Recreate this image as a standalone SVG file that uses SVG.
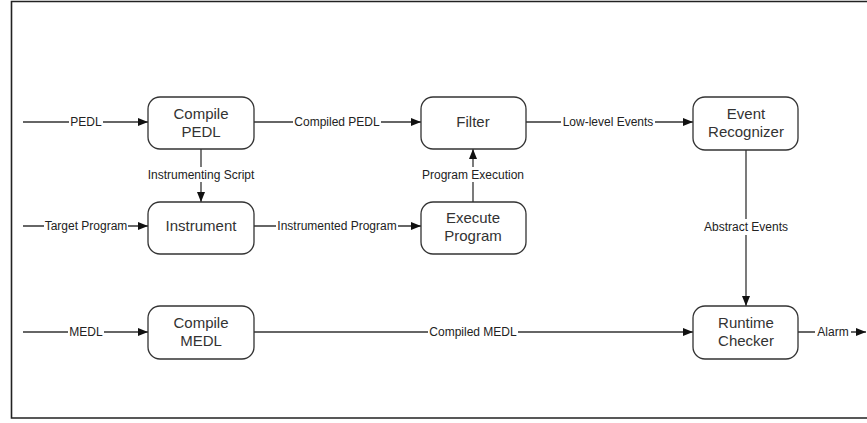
<svg xmlns="http://www.w3.org/2000/svg" width="867" height="423" viewBox="0 0 867 423">
<style>
.node rect{fill:#fff;stroke:#333;stroke-width:1.3}
.node text{font-family:"Liberation Sans",Arial,sans-serif;font-size:15px;fill:#333;text-anchor:middle}
.conn line{stroke:#333;stroke-width:1.3}
.lbl{font-family:"Liberation Sans",Arial,sans-serif;font-size:12px;fill:#222;text-anchor:middle}
.bg{fill:#fff}
</style>
<defs>
<marker id="ah" viewBox="0 0 10 8" refX="10" refY="4" markerWidth="10" markerHeight="8" markerUnits="userSpaceOnUse" orient="auto">
<path d="M0,0 L10,4 L0,8 z" fill="#111"/>
</marker>
</defs>
<rect width="867" height="423" fill="#fff"/>
<g id="frame" fill="none" stroke="#222" stroke-width="1.6">
<polyline points="867,1.5 11.5,1.5 11.5,418 867,418"/>
</g>
<g id="connectors" class="conn">
<line x1="23" y1="122" x2="148" y2="122" marker-end="url(#ah)"/>
<line x1="23" y1="226" x2="148" y2="226" marker-end="url(#ah)"/>
<line x1="201" y1="149" x2="201" y2="202" marker-end="url(#ah)"/>
<line x1="254" y1="122" x2="421" y2="122" marker-end="url(#ah)"/>
<line x1="254" y1="226" x2="421" y2="226" marker-end="url(#ah)"/>
<line x1="473" y1="202" x2="473" y2="149" marker-end="url(#ah)"/>
<line x1="526" y1="122" x2="693" y2="122" marker-end="url(#ah)"/>
<line x1="746" y1="150" x2="746" y2="306" marker-end="url(#ah)"/>
<line x1="23" y1="332" x2="148" y2="332" marker-end="url(#ah)"/>
<line x1="254" y1="332" x2="693" y2="332" marker-end="url(#ah)"/>
<line x1="798" y1="332" x2="866" y2="332" marker-end="url(#ah)"/>
<rect class="bg" x="69" y="116" width="34" height="12"/>
<text class="lbl" x="86" y="126">PEDL</text>
<rect class="bg" x="44" y="220" width="84" height="12"/>
<text class="lbl" x="86" y="230">Target Program</text>
<rect class="bg" x="146" y="167" width="110" height="15"/>
<text class="lbl" x="201" y="179">Instrumenting Script</text>
<rect class="bg" x="293" y="116" width="88" height="12"/>
<text class="lbl" x="337" y="126">Compiled PEDL</text>
<rect class="bg" x="276" y="220" width="122" height="12"/>
<text class="lbl" x="337" y="230">Instrumented Program</text>
<rect class="bg" x="418" y="167" width="110" height="15"/>
<text class="lbl" x="473" y="179">Program Execution</text>
<rect class="bg" x="561" y="116" width="94" height="12"/>
<text class="lbl" x="608" y="126">Low-level Events</text>
<rect class="bg" x="700" y="219" width="92" height="16"/>
<text class="lbl" x="746" y="231">Abstract Events</text>
<rect class="bg" x="68" y="326" width="36" height="12"/>
<text class="lbl" x="86" y="336">MEDL</text>
<rect class="bg" x="428" y="326" width="90" height="12"/>
<text class="lbl" x="473" y="336">Compiled MEDL</text>
<rect class="bg" x="815" y="326" width="36" height="12"/>
<text class="lbl" x="833" y="336">Alarm</text>
</g>
<g id="compile-pedl" class="node">
<rect x="148" y="97" width="106" height="52" rx="12"/>
<text x="201" y="119">Compile</text>
<text x="201" y="137">PEDL</text>
</g>
<g id="instrument" class="node">
<rect x="148" y="202" width="106" height="52" rx="12"/>
<text x="201" y="231">Instrument</text>
</g>
<g id="filter" class="node">
<rect x="421" y="97" width="105" height="52" rx="12"/>
<text x="473" y="127">Filter</text>
</g>
<g id="execute-program" class="node">
<rect x="421" y="202" width="105" height="52" rx="12"/>
<text x="473" y="223">Execute</text>
<text x="473" y="241">Program</text>
</g>
<g id="event-recognizer" class="node">
<rect x="693" y="97" width="105" height="53" rx="12"/>
<text x="746" y="119">Event</text>
<text x="746" y="137">Recognizer</text>
</g>
<g id="compile-medl" class="node">
<rect x="148" y="306" width="106" height="53" rx="12"/>
<text x="201" y="328">Compile</text>
<text x="201" y="346">MEDL</text>
</g>
<g id="runtime-checker" class="node">
<rect x="693" y="306" width="105" height="53" rx="12"/>
<text x="746" y="328">Runtime</text>
<text x="746" y="346">Checker</text>
</g>
</svg>
